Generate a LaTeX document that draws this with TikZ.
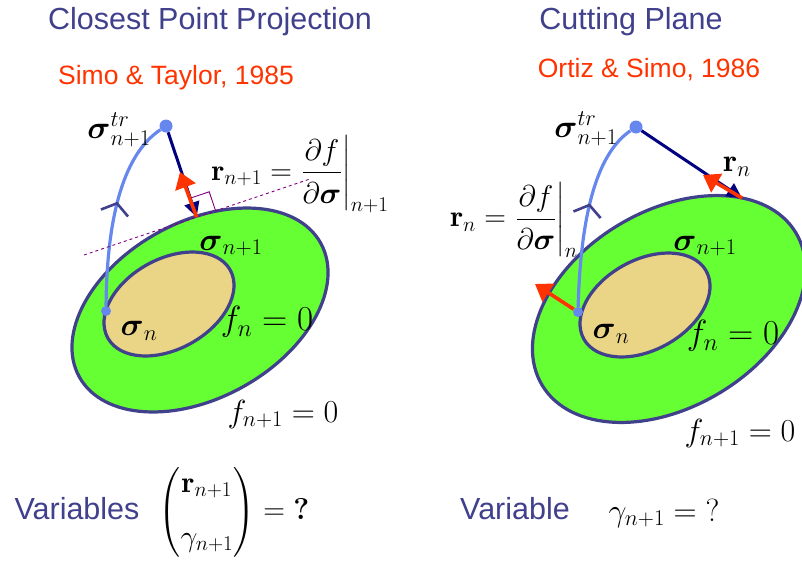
\RequirePackage{fix-cm}
\documentclass[tikz,border=0pt]{standalone}
\usepackage{amsmath}
\usepackage{fontspec}
\setsansfont{Liberation Sans}
\usepackage{tikz}
\usetikzlibrary{arrows.meta,positioning,calc,shapes.geometric,decorations.markings}
\definecolor{ppedge}{RGB}{64,64,140}
\definecolor{ppgreen}{RGB}{102,255,51}
\definecolor{ppcore}{RGB}{234,212,134}
\definecolor{pppath}{RGB}{102,136,238}
\definecolor{ppnavy}{RGB}{0,0,128}
\definecolor{ppred}{RGB}{255,51,0}
\definecolor{pptan}{RGB}{128,0,128}
\newcommand{\gradfrac}{\dfrac{\partial f\rule[-7pt]{0pt}{7pt}}{\partial\boldsymbol{\sigma}\rule{0pt}{27pt}}}
\tikzset{
  shell/.style={
    ellipse, draw=ppedge, line width=3.2pt, fill=ppgreen, inner sep=0pt
  },
  core/.style={shell, fill=ppcore},
  pdot/.style={circle, fill=pppath, inner sep=0pt, minimum size=13pt},
  sdot/.style={pdot, minimum size=10pt},
  trail/.style={
    draw=pppath, line width=3.2pt, postaction={decorate},
    decoration={markings, mark=at position 0.55 with
      {\arrow[ppedge, line width=2.6pt]{Straight Barb[length=10pt,width=28pt]}}}
  },
  proj/.style={draw=ppnavy, line width=3pt, -{Triangle[length=15pt,width=15pt]}},
  grad/.style={draw=ppred, line width=3.6pt, -{Triangle[length=16pt,width=21pt]}},
  tangent/.style={draw=pptan, dashed, line width=0.9pt},
  rangle/.style={draw=pptan, line width=0.9pt},
  lbl/.style={font=\fontsize{32}{38}\selectfont, inner sep=0pt},
  fraclbl/.style={font=\fontsize{30}{36}\selectfont, inner sep=0pt},
  biglbl/.style={font=\fontsize{35}{42}\selectfont, inner sep=0pt},
  head/.style={font=\sffamily\fontsize{30.5}{36}\selectfont, text=ppedge, inner sep=0pt},
  cite/.style={font=\sffamily\fontsize{26.5}{32}\selectfont, text=ppred, inner sep=0pt}
}
\begin{document}
\begin{tikzpicture}[x=1pt,y=-1pt]
  \useasboundingbox (0,0) rectangle (802,563);
  % closest point projection
  \node[shell, rotate=29, minimum width=276, minimum height=176] (outL) at (200,310) {};
  \node[core, rotate=29, minimum width=140, minimum height=90] (inL) at (169,304) {};
  \node[pdot] (trL) at (166,126) {};
  \node[sdot] (snL) at (106,311) {};
  \coordinate (tanA) at (84,255);
  \coordinate (tanB) at (310,179);
  \coordinate (ftL) at ($(tanA)!(trL)!(tanB)$);
  \coordinate (gtipL) at (180,172);
  \draw[trail] (snL) .. controls (107,200) and (130,150) .. (trL);
  \draw[tangent] (tanA) -- (tanB);
  \draw[rangle] ($(ftL)!20pt!(tanB)$) -- ($($(ftL)!20pt!(tanB)$)+($(ftL)!20pt!(trL)$)-(ftL)$) -- ($(ftL)!20pt!(trL)$);
  \draw[proj] (trL) -- (ftL);
  \draw[grad] (ftL) -- (gtipL);
  \node[lbl] (trLlbl) at (119,130) {$\boldsymbol{\sigma}^{tr}_{n+1}$};
  \node[fraclbl] (rL) at (300,174) {$\mathbf{r}_{n+1}=\left.\gradfrac\right|_{n+1}$};
  \node[lbl] (snewL) at (231,246) {$\boldsymbol{\sigma}_{n+1}$};
  \node[lbl] (soldL) at (139,331) {$\boldsymbol{\sigma}_{n}$};
  \node[biglbl] (fnL) at (267,322) {$f_n=0$};
  \node[lbl] (fnnL) at (283,414) {$f_{n+1}=0$};
  % cutting plane
  \node[shell, rotate=31, minimum width=296, minimum height=196] (outR) at (669,309) {};
  \node[core, rotate=29, minimum width=140, minimum height=90] (inR) at (645,305) {};
  \node[pdot] (trR) at (636,127) {};
  \node[sdot] (snR) at (578,312) {};
  \coordinate (ftR) at (742,198);
  \coordinate (gtipR) at (703,175);
  \coordinate (ntipR) at (535,284);
  \draw[trail] (snR) .. controls (581,200) and (602,150) .. (trR);
  \draw[proj] (trR) -- (ftR);
  \draw[grad] (ftR) -- (gtipR);
  \draw[grad] (snR) -- (ntipR);
  \node[lbl] (trRlbl) at (586,129) {$\boldsymbol{\sigma}^{tr}_{n+1}$};
  \node[lbl] (rR) at (737,167) {$\mathbf{r}_{n}$};
  \node[fraclbl] (rdefR) at (514,220) {$\mathbf{r}_{n}=\left.\gradfrac\right|_{n}$};
  \node[lbl] (snewR) at (705,246) {$\boldsymbol{\sigma}_{n+1}$};
  \node[lbl] (soldR) at (611,334) {$\boldsymbol{\sigma}_{n}$};
  \node[biglbl] (fnR) at (733,336) {$f_n=0$};
  \node[lbl] (fnnR) at (740,433) {$f_{n+1}=0$};
  % titles and unknowns
  \node[head] (ttlL) at (210,22) {Closest Point Projection};
  \node[cite] (citeL) at (176,78) {Simo \& Taylor, 1985};
  \node[head] (ttlR) at (631,22) {Cutting Plane};
  \node[cite] (citeR) at (649,70) {Ortiz \& Simo, 1986};
  \node[head] (varL) at (77,509) {Variables};
  \node[fraclbl] (unkL) at (234,512) {$\begin{pmatrix}\mathbf{r}_{n+1}\\[18pt] \gamma_{n+1}\end{pmatrix}=\boldsymbol{\mathord{?}}$};
  \node[head] (varR) at (515,509) {Variable};
  \node[lbl] (unkR) at (664,513) {$\gamma_{n+1}=\mathord{?}$};
\end{tikzpicture}
\end{document}
